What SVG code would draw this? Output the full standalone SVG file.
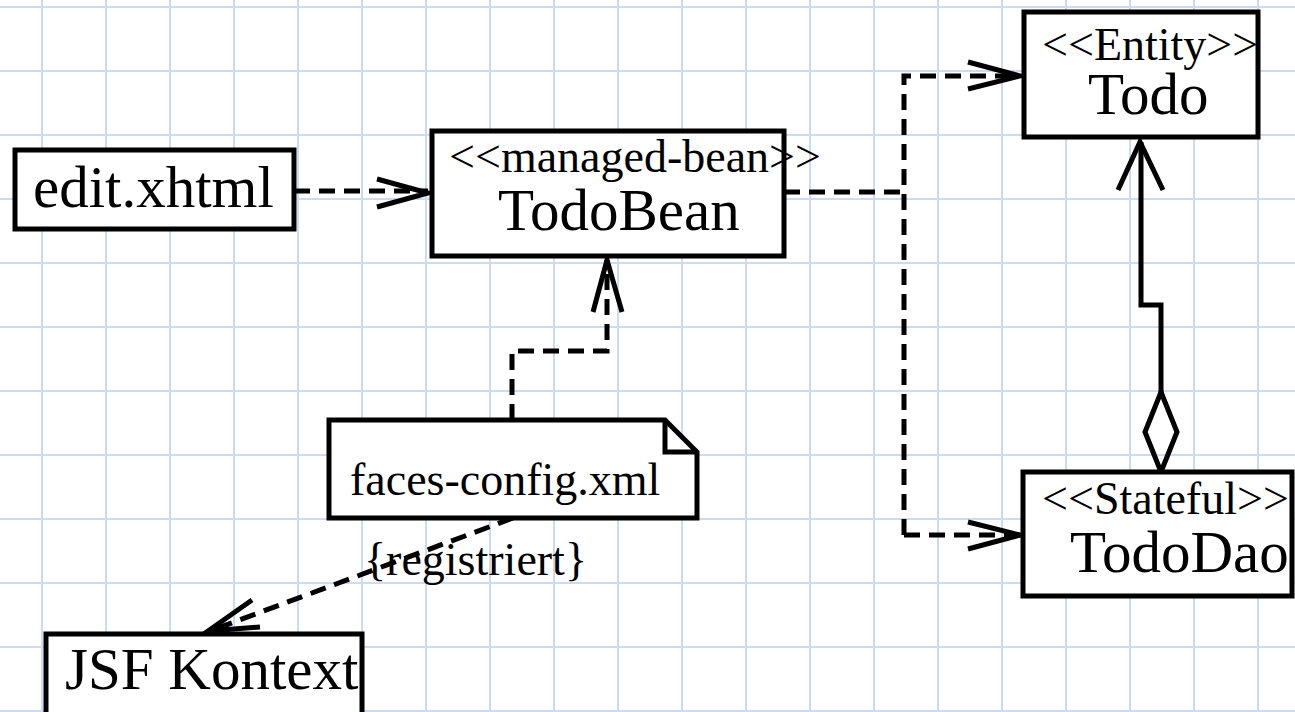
<svg xmlns="http://www.w3.org/2000/svg" width="1295" height="712" viewBox="0 0 1295 712">
  <defs>
    <style>
      .grid { fill: none; stroke: #cdd9f8; stroke-width: 2; }
      .box { fill: #ffffff; stroke: #000000; stroke-width: 5; }
      .big { font-family: "Liberation Serif", "Times New Roman", serif; font-size: 59px; fill: #000000; }
      .small { font-family: "Liberation Serif", "Times New Roman", serif; font-size: 46px; fill: #000000; }
      .dep { fill: none; stroke: #000000; stroke-width: 5; stroke-dasharray: 16 9; }
      .solid { fill: none; stroke: #000000; stroke-width: 5; }
      .head { fill: none; stroke: #000000; stroke-width: 5; stroke-linejoin: miter; }
    </style>
  </defs>

  <!-- background grid, 64px pitch -->
  <rect width="1295" height="712" fill="#ffffff"/>
  <path class="grid" d="M42,0 V712 M106,0 V712 M170,0 V712 M234,0 V712 M298,0 V712 M362,0 V712 M426,0 V712 M490,0 V712 M554,0 V712 M618,0 V712 M682,0 V712 M746,0 V712 M810,0 V712 M874,0 V712 M938,0 V712 M1002,0 V712 M1066,0 V712 M1130,0 V712 M1194,0 V712 M1258,0 V712
    M0,7 H1295 M0,71 H1295 M0,135 H1295 M0,199 H1295 M0,263 H1295 M0,327 H1295 M0,391 H1295 M0,455 H1295 M0,519 H1295 M0,583 H1295 M0,647 H1295 M0,711 H1295"/>

  <!-- connectors -->
  <g id="connectors">
    <!-- edit.xhtml to TodoBean -->
    <path class="dep" d="M294,191 H428"/>
    <polyline class="head" points="377,179 428,193 377,207"/>

    <!-- TodoBean to Todo and TodoDao -->
    <path class="dep" d="M784,192 H904"/>
    <path class="dep" d="M904,535 V76 H1020"/>
    <path class="dep" d="M904,535 H1020"/>
    <polyline class="head" points="968,62 1020,76 968,89"/>
    <polyline class="head" points="968,522 1020,535 968,549"/>

    <!-- faces-config.xml to TodoBean -->
    <path class="dep" d="M512,420 V351 H607 V260"/>
    <polyline class="head" points="593,312 607,260 622,312"/>

    <!-- faces-config.xml to JSF Kontext -->
    <path class="dep" d="M513,518 L210,631"/>
    <polyline class="head" points="252,600 208,631 260,627"/>
    <text class="small" x="364" y="575">{registriert}</text>

    <!-- TodoDao aggregates Todo -->
    <path class="solid" d="M1161,392 V305 H1141 V142"/>
    <polygon class="solid" points="1161,392 1177,432 1161,472 1145,432" fill="#ffffff"/>
    <polyline class="head" points="1118,190 1140,142 1163,190"/>
  </g>

  <g id="edit-xhtml">
    <rect class="box" x="15" y="150" width="279" height="79"/>
    <text class="big" x="33" y="207">edit.xhtml</text>
  </g>

  <g id="todo-bean">
    <rect class="box" x="432" y="131" width="352" height="125"/>
    <text class="small" x="449" y="172">&lt;&lt;managed-bean&gt;&gt;</text>
    <text class="big" x="498" y="230">TodoBean</text>
  </g>

  <g id="todo">
    <rect class="box" x="1024" y="12" width="234" height="125"/>
    <text class="small" x="1042" y="60">&lt;&lt;Entity&gt;&gt;</text>
    <text class="big" x="1088" y="114">Todo</text>
  </g>

  <g id="todo-dao">
    <rect class="box" x="1023" y="472" width="269" height="124"/>
    <text class="small" x="1042" y="514">&lt;&lt;Stateful&gt;&gt;</text>
    <text class="big" x="1070" y="572">TodoDao</text>
  </g>

  <g id="faces-config">
    <path class="box" d="M329,420 H665 L697,452 V518 H329 Z"/>
    <path class="solid" d="M665,420 V452 H697"/>
    <text class="small" x="350" y="495">faces-config.xml</text>
  </g>

  <g id="jsf-kontext">
    <rect class="box" x="46" y="634" width="316" height="110"/>
    <text class="big" x="65" y="689">JSF Kontext</text>
  </g>
</svg>
